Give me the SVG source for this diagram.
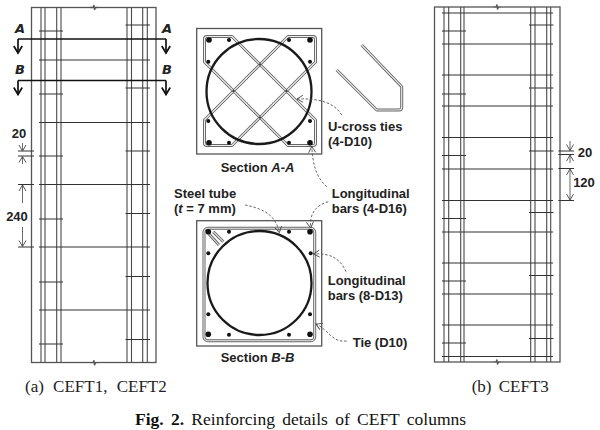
<svg xmlns="http://www.w3.org/2000/svg" xmlns:xlink="http://www.w3.org/1999/xlink" width="600" height="430" viewBox="0 0 600 430">
<style>
.o{fill:none;stroke:#555;stroke-width:1.3}
.b{fill:none;stroke:#4a4a4a;stroke-width:1.1}
.t{fill:none;stroke:#333;stroke-width:1.1}
.cut{fill:none;stroke:#111;stroke-width:1.7}
.arr{marker-end:url(#big)}
.dim{fill:none;stroke:#444;stroke-width:.8;marker-end:url(#open)}
.dash{fill:none;stroke:#555;stroke-width:.9;stroke-dasharray:2.5 1.8;marker-end:url(#open)}
.ln{fill:none;stroke:#333;stroke-width:1}
.c{fill:none;stroke:#1a1a1a;stroke-width:2.3}
.u1{fill:none;stroke:#666;stroke-width:3;stroke-linejoin:round}
.u2{fill:none;stroke:#eee;stroke-width:1.1;stroke-linejoin:round}
.l{font-family:"Liberation Sans",Arial,sans-serif;font-weight:bold;font-size:13px;fill:#222}
.m{font-family:"DejaVu Sans","Noto Sans",sans-serif;font-weight:bold;font-style:italic;font-size:13px;fill:#222}
.i{font-style:italic}
.cap{font-family:"Liberation Serif",serif;font-size:17px;fill:#222;word-spacing:3px}
.fig{font-family:"Liberation Serif",serif;font-size:17.5px;fill:#111;word-spacing:2.9px}
circle.k{fill:#111;stroke:none}
</style>
<defs>
<marker id="open" markerUnits="userSpaceOnUse" markerWidth="12" markerHeight="12" refX="8" refY="6" orient="auto"><path d="M2,2.5 L8,6 L2,9.5" fill="none" stroke="#444" stroke-width=".9"/></marker>
<marker id="big" markerUnits="userSpaceOnUse" markerWidth="14" markerHeight="14" refX="10" refY="7" orient="auto"><path d="M3,2.8 L10,7 L3,11.2" fill="none" stroke="#111" stroke-width="1.7"/></marker>
<path id="u" d="M14,-12.5 L-28,-54.5 L-53,-54.5 Q-55.5,-54.5 -55.5,-52 L-55.5,-29 L-13,13.5"/>
<path id="brk" class="o" d="M-4,0 L-1,0 L0,-2.5 L.5,2.5 L1.5,0 L4,0" fill="#fff"/>
</defs>

<g id="column-a">
<rect class="o" x="31.5" y="7.5" width="124.5" height="355"/>
<path d="M90,7.5h8M90,362.7h8" stroke="#fff" stroke-width="2"/>
<use xlink:href="#brk" href="#brk" x="94" y="7.5"/><use xlink:href="#brk" href="#brk" x="94" y="362.7"/>
<path class="b" d="M41,7.5V362.5M45,7.5V362.5M56.7,7.5V362.5M61,7.5V362.5M127,7.5V362.5M131.5,7.5V362.5M142.7,7.5V362.5M147.3,7.5V362.5"/>
<path class="t" d="M39,31H63M39,94H63M39,156H63M39,219H63M39,282H63M39,344H63"/>
<path class="t" d="M39,60H150M39,122.5H150M39,184.5H150M39,247H150M39,310H150"/>
<path class="t" d="M125.5,25H150M125.5,88H150M125.5,151H150M125.5,213.5H150M125.5,276.5H150M125.5,339.5H150"/>
</g>

<g id="column-b">
<rect class="o" x="434.5" y="7" width="125.5" height="355"/>
<path d="M493,7h8M493,362h8" stroke="#fff" stroke-width="2"/>
<use xlink:href="#brk" href="#brk" x="497" y="7"/><use xlink:href="#brk" href="#brk" x="497" y="362"/>
<path class="b" d="M444,7V362M448.7,7V362M460.7,7V362M464,7V362M530.7,7V362M535,7V362M546.7,7V362M550.7,7V362"/>
<path class="t" d="M442,13H553M442,44H553M442,75H553M442,106H553M442,137.5H553M442,169H553M442,200.5H553M442,232H553M442,263H553M442,294H553M442,325H553M442,356.5H553"/>
<path class="t" d="M442,31H466M442,94H466M442,155.5H466M442,218.5H466M442,281H466M442,343H466"/>
<path class="t" d="M529,25H553.5M529,88H553.5M529,151H553.5M529,212.5H553.5M529,275.5H553.5M529,338.5H553.5"/>
</g>

<g id="section-cuts">
<path class="cut" d="M18,39H166"/><path class="cut" d="M18,80.5H166"/>
<path class="cut arr" d="M18,39V53"/><path class="cut arr" d="M166,39V53"/>
<path class="cut arr" d="M18,80.5V94.5"/><path class="cut arr" d="M166,80.5V94.5"/>
<text class="m" x="20" y="32.5" text-anchor="middle">A</text>
<text class="m" x="167" y="32.5" text-anchor="middle">A</text>
<text class="m" x="20" y="74" text-anchor="middle">B</text>
<text class="m" x="167" y="74" text-anchor="middle">B</text>
</g>

<g id="dimensions-a">
<path class="ln" d="M18,151H34M18,156H34M18,184.5H34M18,247H34"/>
<path class="dim" d="M22.5,143V151"/><path class="dim" d="M22.5,164V156.5"/><path class="dim" d="M22.5,203V185"/><path class="dim" d="M22.5,227V246.5"/>
<text class="l" x="19" y="138" text-anchor="middle">20</text>
<text class="l" x="17" y="220.7" text-anchor="middle">240</text>
</g>

<g id="dimensions-b">
<path class="ln" d="M558.3,151H574M558.3,154.5H574M558.3,168.5H574M558.3,200.5H574"/>
<path class="dim" d="M570,141V150.5"/><path class="dim" d="M570,163V155"/><path class="dim" d="M570,185V169"/><path class="dim" d="M570,185V200"/>
<text class="l" x="585" y="157" text-anchor="middle">20</text>
<text class="l" x="584" y="186.7" text-anchor="middle">120</text>
</g>

<g id="section-a">
<rect class="o" x="196.7" y="28.5" width="125" height="125.5"/>
<g class="u1">
<use xlink:href="#u" href="#u" transform="translate(260,91)"/>
<use xlink:href="#u" href="#u" transform="translate(260,91) scale(-1,1)"/>
<use xlink:href="#u" href="#u" transform="translate(260,91) scale(1,-1)"/>
<use xlink:href="#u" href="#u" transform="translate(260,91) scale(-1,-1)"/>
</g>
<g class="u2">
<use xlink:href="#u" href="#u" transform="translate(260,91)"/>
<use xlink:href="#u" href="#u" transform="translate(260,91) scale(-1,1)"/>
<use xlink:href="#u" href="#u" transform="translate(260,91) scale(1,-1)"/>
<use xlink:href="#u" href="#u" transform="translate(260,91) scale(-1,-1)"/>
</g>
<circle cx="260" cy="64.5" r="1.3" fill="#444"/><circle cx="233.5" cy="91" r="1.3" fill="#444"/><circle cx="286.5" cy="91" r="1.3" fill="#444"/><circle cx="260" cy="117.5" r="1.3" fill="#444"/>
<circle class="c" cx="259" cy="91.5" r="52.5"/>
<circle class="k" cx="209" cy="40" r="2.8"/><circle class="k" cx="310" cy="40" r="2.8"/><circle class="k" cx="209" cy="142.7" r="2.8"/><circle class="k" cx="310" cy="142.7" r="2.8"/>
<circle class="k" cx="229" cy="40" r="2"/><circle class="k" cx="289" cy="40" r="2"/><circle class="k" cx="229" cy="142.7" r="2"/><circle class="k" cx="289" cy="142.7" r="2"/>
<circle class="k" cx="208.3" cy="61.7" r="2"/><circle class="k" cx="310" cy="61.7" r="2"/><circle class="k" cx="208.3" cy="121" r="2"/><circle class="k" cx="310" cy="121" r="2"/>
<text class="l" x="220.7" y="171.7">Section <tspan class="i">A-A</tspan></text>
</g>

<g id="u-tie-detail">
<path class="u1" d="M336.7,70 L376.7,110 H399 Q401.7,110 401.7,107 V86.7 L361.7,45"/>
<path class="u2" d="M336.7,70 L376.7,110 H399 Q401.7,110 401.7,107 V86.7 L361.7,45"/>
</g>

<g id="section-b">
<rect class="o" x="196.7" y="220.7" width="125" height="125.3"/>
<rect x="204" y="228.3" width="110.7" height="112.4" rx="4" fill="none" stroke="#666" stroke-width="3"/>
<rect x="204" y="228.3" width="110.7" height="112.4" rx="4" fill="none" stroke="#eee" stroke-width="1.1"/>
<path class="u1" d="M209,234 L219,245M213.3,231.7 L223.3,241.7"/><path class="u2" d="M209,234 L219,245M213.3,231.7 L223.3,241.7"/>
<circle class="c" cx="259.5" cy="283" r="52"/>
<circle class="k" cx="208.3" cy="231.7" r="2.8"/><circle class="k" cx="310" cy="231.7" r="2.8"/><circle class="k" cx="208.3" cy="334.3" r="2.8"/><circle class="k" cx="310" cy="334.3" r="2.8"/>
<circle class="k" cx="229" cy="231.7" r="2"/><circle class="k" cx="289" cy="231.7" r="2"/><circle class="k" cx="229" cy="334.7" r="2"/><circle class="k" cx="289" cy="334.7" r="2"/>
<circle class="k" cx="208.3" cy="253.3" r="2"/><circle class="k" cx="310.7" cy="253.3" r="2"/><circle class="k" cx="208.3" cy="314.3" r="2"/><circle class="k" cx="310" cy="314.3" r="2"/>
<text class="l" x="220.7" y="361.7">Section <tspan class="i">B-B</tspan></text>
</g>

<g id="connectors">
<path class="dash" d="M341.7,115 C335,104 322,98 297,99"/>
<path class="dash" d="M326.7,186.7 C315,176 313,163 311.7,146.5"/>
<path class="dash" d="M328.3,201.7 C316,205 309,214 310.7,228"/>
<path class="dash" d="M245,205 C265,209 276,216 279.3,232.7"/>
<path class="dash" d="M346,271.7 C340,258 330,253 313.5,254"/>
<path class="dash" d="M346.7,341 C332,343 329,330 316,324"/>
</g>

<g id="labels">
<text class="l" x="328" y="130.7">U-cross ties</text>
<text class="l" x="328" y="146">(4-D10)</text>
<text class="l" x="331.7" y="198">Longitudinal</text>
<text class="l" x="331.7" y="213">bars (4-D16)</text>
<text class="l" x="174" y="198">Steel tube</text>
<text class="l" x="174" y="213">(<tspan class="i">t</tspan> = 7 mm)</text>
<text class="l" x="327.7" y="285">Longitudinal</text>
<text class="l" x="327.7" y="300">bars (8-D13)</text>
<text class="l" x="352.7" y="346.7">Tie (D10)</text>
</g>

<g id="captions">
<text class="cap" x="25" y="392" word-spacing="5" style="word-spacing:5px">(a) CEFT1, CEFT2</text>
<text class="cap" x="471.7" y="391.7">(b) CEFT3</text>
<text class="fig" x="135" y="425"><tspan font-weight="bold">Fig. 2.</tspan> Reinforcing details of CEFT columns</text>
</g>
</svg>
